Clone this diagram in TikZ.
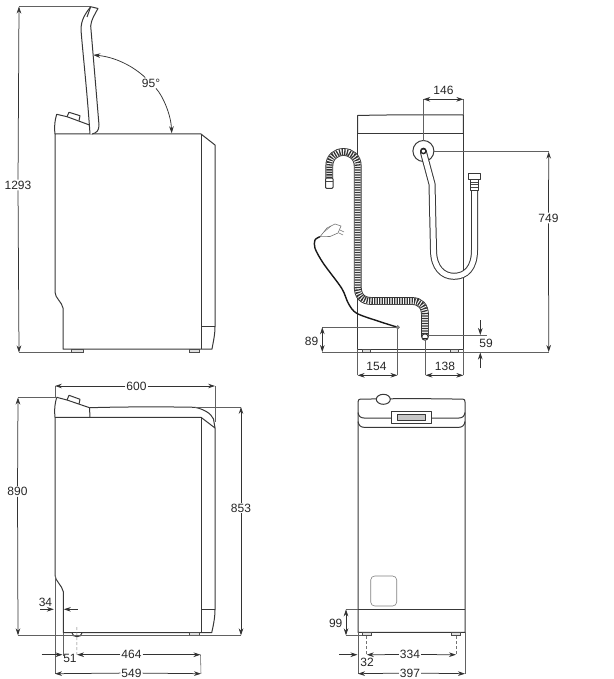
\documentclass[tikz,border=0pt]{standalone}
\usepackage{fontspec}
\setmainfont{Liberation Sans}
\usetikzlibrary{arrows.meta}

\tikzset{
  bodyline/.style={draw=black!78, line width=1pt, line join=round},
  thinline/.style={draw=black!72, line width=0.55pt},
  extline/.style={draw=black!62, line width=0.55pt},
  hiddenline/.style={draw=black!55, line width=0.5pt, dashed, dash pattern=on 3pt off 2pt},
  dimline/.style={draw=black!80, line width=0.75pt},
  dimto/.style={dimline, -{Stealth[length=7pt,width=4.6pt]}},
  dimboth/.style={dimline, {Stealth[length=7pt,width=4.6pt]}-{Stealth[length=7pt,width=4.6pt]}},
  dimtxt/.style={font=\fontsize{12}{12}\selectfont, text=black!85, inner sep=1pt},
  footbox/.style={draw=black!70, line width=0.6pt, fill=black!12}
}

\begin{document}
\begin{tikzpicture}[x=1pt, y=-1pt]
\useasboundingbox (0,0) rectangle (613,679);

% side view, lid open
\draw[bodyline] (55,134) -- (201,134) -- (215,145) -- (215,327) .. controls (215,335) and (213,343) .. (212,349) -- (63,349) -- (63,308) .. controls (62,302) and (55,298) .. (55,292) -- cycle;
\draw[bodyline] (201,134) -- (201,349);
\draw[bodyline] (201,326) -- (215,326);
\draw[footbox] (71,349) rectangle (83,352.5);
\draw[footbox] (189.5,349) rectangle (199,352.5);
\draw[bodyline] (55,134) .. controls (54,126) and (55,120) .. (56.7,114.3) -- (67,116.7) -- (89.5,125);
\draw[bodyline] (67,116.7) -- (69,112.3) -- (80,115.7) -- (79,120.7);
\draw[bodyline, fill=white] (90,134) .. controls (87,90) and (83,55) .. (81,30) .. controls (81,20) and (85,14) .. (90.7,6.7) -- (98,8.5) .. controls (95,14) and (91,20) .. (90.7,26) -- (99,125) .. controls (99,130) and (97,133) .. (92,134);
\draw[bodyline] (87,17) -- (90.7,6.7);

% lid dimensions
\coordinate (lidtop) at (90,6.5);
\coordinate (hA) at (19,6.5);
\coordinate (hB) at (19,352.5);
\coordinate (footA) at (71,352.5);
\draw[extline] (hA) -- (lidtop);
\draw[extline] (hB) -- (footA);
\node[dimtxt] (t1293) at (18,185) {1293};
\draw[dimto] (t1293) -- (hA);
\draw[dimto] (t1293) -- (hB);
\coordinate (angA) at (93.3,55);
\coordinate (angB) at (171.7,133.3);
\node[dimtxt] (t95) at (151,83) {95°};
\draw[dimto] (t95) .. controls (133,66) and (115,57) .. (angA);
\draw[dimto] (t95) .. controls (163,96) and (171,115) .. (angB);

% rear view, body
\draw[bodyline] (357.6,133.3) -- (357.6,115.5) .. controls (390,114.7) and (430,114.7) .. (463.4,115) -- (463.4,133.3);
\draw[bodyline] (357.6,133.3) -- (463.4,133.3);
\draw[bodyline] (357.6,133.3) -- (357.6,349.3) -- (463.4,349.3) -- (463.4,133.3);
\draw[footbox] (362.3,349.3) rectangle (370.7,352.5);
\draw[footbox] (450,349.3) rectangle (458.3,352.5);

% inlet hose
\draw[bodyline, fill=white] (423.4,151) circle (10.5);
\draw[draw=black!78, line width=7pt, line cap=round] (423.4,152) -- (432,184) -- (433.5,250) .. controls (433.5,268) and (443,276.3) .. (454,276.3) .. controls (466,276.3) and (474.5,268) .. (474.5,250) -- (474.5,188);
\draw[draw=white, line width=5pt, line cap=round] (423.4,152) -- (432,184) -- (433.5,250) .. controls (433.5,268) and (443,276.3) .. (454,276.3) .. controls (466,276.3) and (474.5,268) .. (474.5,250) -- (474.5,188);
\draw[draw=black!85, line width=1.4pt] (423.4,151) circle (2.6);
\draw[bodyline, fill=white] (470.7,179.3) rectangle (478.3,190);
\draw[thinline] (470.7,182) -- (478.3,182);
\draw[thinline] (470.7,184.5) -- (478.3,184.5);
\draw[thinline] (470.7,187) -- (478.3,187);
\draw[bodyline, fill=white] (468.3,173.3) rectangle (480.7,179.3);

% drain hose
\draw[draw=black!80, line width=7.8pt] (329.3,178) -- (329.3,166) .. controls (329.3,157) and (336,152) .. (343.5,152) .. controls (351,152) and (357.7,157) .. (357.7,166) -- (357.7,286) .. controls (357.7,296) and (362,301) .. (372,301) -- (412,301) .. controls (420,301) and (425,306) .. (425,315) -- (425,337);
\draw[draw=white, line width=6pt] (329.3,178) -- (329.3,166) .. controls (329.3,157) and (336,152) .. (343.5,152) .. controls (351,152) and (357.7,157) .. (357.7,166) -- (357.7,286) .. controls (357.7,296) and (362,301) .. (372,301) -- (412,301) .. controls (420,301) and (425,306) .. (425,315) -- (425,337);
\draw[draw=black!80, line width=6pt, dash pattern=on 1.3pt off 1.2pt] (329.3,178) -- (329.3,166) .. controls (329.3,157) and (336,152) .. (343.5,152) .. controls (351,152) and (357.7,157) .. (357.7,166) -- (357.7,286) .. controls (357.7,296) and (362,301) .. (372,301) -- (412,301) .. controls (420,301) and (425,306) .. (425,315) -- (425,337);
\draw[bodyline, fill=white, rounded corners=1pt] (325.5,178) rectangle (333,188.3);
\draw[thinline] (325.5,181) -- (333,181);
\draw[bodyline, fill=white] (425,337) circle (3.2);
\draw[draw=black!85, line width=0.9pt] (423,338) -- (427,338);

% power cord and plug
\draw[draw=black!90, line width=1.4pt] plot[smooth] coordinates {(397.7,327.3) (380,321.7) (356.7,313.3) (348.3,303.3) (341.7,288.3) (323.3,263.3) (315,248.3) (315,240) (320,236.7)};
\draw[draw=black!55, line width=0.6pt, fill=white] (320,236.7) -- (327,228) -- (335,224) -- (341,226) -- (338,233) -- (330,236.5) -- cycle;
\draw[draw=black!55, line width=0.5pt] (340,230) -- (344,232);
\draw[draw=black!55, line width=0.5pt] (339,233) -- (343,235);
\draw[draw=black!55, line width=0.5pt] (324,232) -- (331,226);
\draw[draw=black!60, fill=black!45, line width=0.5pt] (397.7,327.3) circle (1.8);

% rear view dimensions
\coordinate (r146A) at (423.3,99.3);
\coordinate (r146B) at (463.4,99.3);
\coordinate (grommetTop) at (423.3,141);
\coordinate (rTopRight) at (463.4,115);
\draw[extline] (r146A) -- (grommetTop);
\draw[extline] (r146B) -- (rTopRight);
\draw[dimboth] (r146A) -- (r146B);
\node[dimtxt] (t146) at (443.5,90.5) {146};
\coordinate (grommetRight) at (433.5,151.7);
\coordinate (r749A) at (548.7,151.7);
\coordinate (r749B) at (548.7,352);
\coordinate (r89B) at (322.3,352);
\coordinate (r89A) at (322.3,327.3);
\coordinate (cordEnd) at (396,327.3);
\draw[extline] (grommetRight) -- (r749A);
\draw[extline] (r89B) -- (362.3,352) (370.7,352) -- (450,352) (458.3,352) -- (r749B);
\node[dimtxt] (t749) at (548.5,218) {749};
\draw[dimto] (t749) -- (r749A);
\draw[dimto] (t749) -- (r749B);
\draw[extline] (r89A) -- (cordEnd);
\draw[dimboth] (r89A) -- (r89B);
\node[dimtxt] (t89) at (311.5,341.5) {89};
\coordinate (r154A) at (357.6,375.3);
\coordinate (r154B) at (397.5,375.3);
\coordinate (r138A) at (425.5,375.3);
\coordinate (r138B) at (463.4,375.3);
\draw[extline] (357.6,349.3) -- (r154A);
\draw[extline] (397.5,329) -- (r154B);
\draw[extline] (425.5,340) -- (r138A);
\draw[extline] (463.4,349.3) -- (r138B);
\draw[dimboth] (r154A) -- (r154B);
\draw[dimboth] (r138A) -- (r138B);
\node[dimtxt] (t154) at (376.5,366.5) {154};
\node[dimtxt] (t138) at (445,366.5) {138};
\coordinate (r59A) at (480.3,335);
\coordinate (r59B) at (480.3,352.5);
\coordinate (r59C) at (480.3,320);
\coordinate (r59D) at (480.3,368);
\draw[extline] (428,335) -- (487,335);
\draw[dimto] (r59C) -- (r59A);
\draw[dimto] (r59D) -- (r59B);
\node[dimtxt] (t59) at (486,343.5) {59};

% side view, lid closed
\draw[bodyline] (55,417.3) -- (201,417.3) -- (215,428) -- (215,610) .. controls (215,618) and (213,627) .. (211.7,632.7) -- (63.3,632.7) -- (63.3,591.7) .. controls (62,585) and (55,581) .. (55,575) -- cycle;
\draw[bodyline] (201,417.3) -- (201,632.7);
\draw[bodyline] (201,609.3) -- (215,609.3);
\draw[bodyline] (55,417.3) .. controls (54,410) and (55,403) .. (56.7,397.3) -- (67,400) -- (89.5,407.7) -- (90,417.3);
\draw[bodyline] (67,400) -- (69,395.3) -- (80,399.3) -- (79,404);
\draw[bodyline] (90,407.7) .. controls (125,406.7) and (165,406.7) .. (195,407.3) .. controls (203,409) and (211,413) .. (213.5,419) -- (215,428);
\draw[footbox] (189,632.7) rectangle (199,635.7);
\draw[bodyline, fill=white] (72,632.7) .. controls (72,638) and (82,638) .. (82,632.7);

% side view dimensions
\coordinate (c600A) at (55,386);
\coordinate (c600B) at (215,386);
\draw[extline] (c600A) -- (55,398);
\draw[extline] (c600B) -- (215,422);
\node[dimtxt] (t600) at (136.5,386) {600};
\draw[dimto] (t600) -- (c600A);
\draw[dimto] (t600) -- (c600B);
\coordinate (c890A) at (18,397.5);
\coordinate (c890B) at (18,635.3);
\coordinate (c853A) at (241,407);
\coordinate (c853B) at (241,635.3);
\draw[extline] (c890A) -- (56.7,397.5);
\draw[extline] (c890B) -- (c853B);
\draw[extline] (195,407) -- (c853A);
\node[dimtxt] (t890) at (17.5,491.5) {890};
\node[dimtxt] (t853) at (241,508) {853};
\draw[dimto] (t890) -- (c890A);
\draw[dimto] (t890) -- (c890B);
\draw[dimto] (t853) -- (c853A);
\draw[dimto] (t853) -- (c853B);
\coordinate (c34A) at (40,609.3);
\coordinate (c34B) at (53.8,609.3);
\coordinate (c34C) at (77.7,609.3);
\coordinate (c34D) at (63.8,609.3);
\draw[dimto] (c34A) -- (c34B);
\draw[dimto] (c34C) -- (c34D);
\node[dimtxt] (t34) at (45.5,602) {34};
\coordinate (c51A) at (41.7,654.7);
\coordinate (c51B) at (62.5,654.7);
\coordinate (c464A) at (77,654.7);
\coordinate (c464B) at (200.5,654.7);
\coordinate (c549A) at (55,673.7);
\coordinate (c549B) at (201,673.7);
\draw[extline] (55,576) -- (c549A);
\draw[extline] (63.3,632.7) -- (63.3,656);
\draw[extline] (c464B) -- (c549B);
\draw[hiddenline] (76.8,627) -- (c464A);
\draw[dimto] (c51A) -- (c51B);
\node[dimtxt] (t51) at (70,658.5) {51};
\node[dimtxt] (t464) at (131.5,654.7) {464};
\draw[dimto] (t464) -- (c464A);
\draw[dimto] (t464) -- (c464B);
\node[dimtxt] (t549) at (131.5,673) {549};
\draw[dimto] (t549) -- (c549A);
\draw[dimto] (t549) -- (c549B);

% front view
\draw[bodyline] (358,632.3) -- (358,402) .. controls (358,400) and (359,399.3) .. (360,399.2) .. controls (395,398.5) and (430,398.5) .. (463,399.2) .. controls (464.5,399.3) and (465,400) .. (465,402) -- (465,632.3) -- cycle;
\draw[bodyline] (358,412.5) .. controls (358.5,416) and (360.5,418) .. (364,418) -- (391.7,418) (431.7,418) -- (459,418) .. controls (462.5,418) and (464.5,416) .. (465,412.5);
\draw[bodyline] (358,421.5) .. controls (358.5,425) and (360.5,427.3) .. (364,427.3) -- (459,427.3) .. controls (462.5,427.3) and (464.5,425) .. (465,421.5);
\draw[bodyline, fill=white] (391.7,411) rectangle (431.7,423.3);
\draw[bodyline, fill=black!22] (397.3,414.3) rectangle (425.7,420.7);
\draw[bodyline, fill=white] (383.3,399.3) ellipse (7 and 5);
\draw[bodyline] (358,609.3) -- (465,609.3);
\draw[draw=black!50, line width=0.6pt, rounded corners=4pt] (370.7,576) rectangle (396.7,606);
\draw[footbox] (362.3,632.3) rectangle (371,635.3);
\draw[footbox] (451.7,632.3) rectangle (460,635.3);

% front view dimensions
\coordinate (f99A) at (346,609.3);
\coordinate (f99B) at (346,635.3);
\draw[extline] (f99A) -- (358,609.3);
\draw[extline] (f99B) -- (362.3,635.3);
\draw[dimboth] (f99A) -- (f99B);
\node[dimtxt] (t99) at (335.7,623.3) {99};
\coordinate (f32A) at (339.3,654.7);
\coordinate (f32B) at (357.5,654.7);
\coordinate (f334A) at (366.7,654.7);
\coordinate (f334B) at (456,654.7);
\coordinate (f397A) at (358,673.7);
\coordinate (f397B) at (465,673.7);
\draw[extline] (358,632.3) -- (f397A);
\draw[extline] (465,632.3) -- (f397B);
\draw[hiddenline] (366.7,636) -- (f334A);
\draw[hiddenline] (456,636) -- (f334B);
\draw[dimto] (f32A) -- (f32B);
\node[dimtxt] (t32) at (367,662) {32};
\node[dimtxt] (t334) at (410,654.5) {334};
\draw[dimto] (t334) -- (f334A);
\draw[dimto] (t334) -- (f334B);
\node[dimtxt] (t397) at (410,673) {397};
\draw[dimto] (t397) -- (f397A);
\draw[dimto] (t397) -- (f397B);

\end{tikzpicture}
\end{document}
